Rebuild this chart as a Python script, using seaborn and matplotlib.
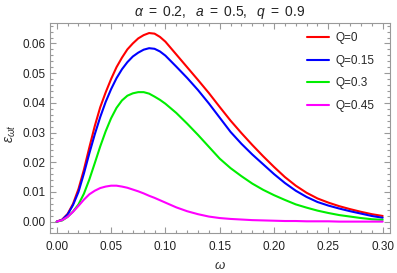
import numpy as np
import pandas as pd
import matplotlib
matplotlib.use('Agg')
import matplotlib.pyplot as plt
from matplotlib.ticker import MultipleLocator
import seaborn as sns

# ── Data ──────────────────────────────────────────────────────────────
omega = [0.000, 0.005, 0.010, 0.015, 0.020, 0.025, 0.030, 0.035, 0.040,
         0.045, 0.050, 0.055, 0.060, 0.065, 0.070, 0.075, 0.080, 0.085,
         0.090, 0.095, 0.100, 0.110, 0.120, 0.130, 0.140, 0.150, 0.160,
         0.170, 0.180, 0.190, 0.200, 0.210, 0.220, 0.230, 0.240, 0.250,
         0.260, 0.270, 0.280, 0.290, 0.300]

eps_q0 = [0.0000, 0.0007, 0.0026, 0.0060, 0.0110, 0.0175, 0.0250, 0.0322,
          0.0385, 0.0435, 0.0480, 0.0520, 0.0552, 0.0580, 0.0600, 0.0617,
          0.0628, 0.0635, 0.0633, 0.0622, 0.0606, 0.0563, 0.0520, 0.0477,
          0.0433, 0.0386, 0.0340, 0.0298, 0.0258, 0.0220, 0.0184, 0.0150,
          0.0121, 0.0097, 0.0078, 0.0064, 0.0052, 0.0042, 0.0033, 0.0025,
          0.0019]

eps_q015 = [0.0000, 0.0006, 0.0024, 0.0056, 0.0100, 0.0162, 0.0230, 0.0294,
            0.0352, 0.0403, 0.0446, 0.0483, 0.0513, 0.0537, 0.0556, 0.0569,
            0.0579, 0.0584, 0.0582, 0.0573, 0.0559, 0.0522, 0.0484, 0.0443,
            0.0398, 0.0350, 0.0302, 0.0262, 0.0226, 0.0193, 0.0160, 0.0130,
            0.0104, 0.0083, 0.0066, 0.0054, 0.0044, 0.0035, 0.0027, 0.0019,
            0.0013]

eps_q03 = [0.0000, 0.0004, 0.0016, 0.0034, 0.0058, 0.0094, 0.0142, 0.0197,
           0.0253, 0.0304, 0.0348, 0.0383, 0.0408, 0.0424, 0.0432, 0.0436,
           0.0436, 0.0431, 0.0421, 0.0410, 0.0397, 0.0366, 0.0330, 0.0292,
           0.0252, 0.0212, 0.0180, 0.0153, 0.0128, 0.0107, 0.0089, 0.0073,
           0.0058, 0.0047, 0.0037, 0.0029, 0.0022, 0.0017, 0.0012, 0.0008,
           0.0006]

eps_q045 = [0.0000, 0.0005, 0.0016, 0.0033, 0.0053, 0.0074, 0.0092, 0.0104,
            0.0113, 0.0118, 0.0121, 0.0121, 0.0118, 0.0114, 0.0108, 0.0102,
            0.0095, 0.0087, 0.0080, 0.0072, 0.0064, 0.0048, 0.0035, 0.0025,
            0.0017, 0.0012, 0.0009, 0.0007, 0.0005, 0.0004, 0.0003, 0.0002,
            0.0002, 0.0001, 0.0001, 0.0001, 0.0000, 0.0000, 0.0000, 0.0000,
            0.0000]

labels = ['Q=0', 'Q=0.15', 'Q=0.3', 'Q=0.45']
colors = ['#ff0000', '#0000ff', '#00ee00', '#ff00ff']

df = pd.concat([
    pd.DataFrame({'omega': omega, 'eps': vals, 'Q': lab})
    for vals, lab in zip([eps_q0, eps_q015, eps_q03, eps_q045], labels)
])

# ── Style ─────────────────────────────────────────────────────────────
sns.set_theme(style='white')
plt.rcParams['font.family'] = ['Liberation Sans', 'DejaVu Sans']
plt.rcParams['mathtext.fontset'] = 'custom'
plt.rcParams['mathtext.rm'] = 'Liberation Sans'
plt.rcParams['mathtext.it'] = 'Liberation Sans:italic'

fig = plt.figure(figsize=(3.97, 2.73), dpi=100)
ax = fig.add_axes([0.126, 0.148, 0.856, 0.769])

sns.lineplot(data=df, x='omega', y='eps', hue='Q', palette=colors,
             linewidth=1.5, ax=ax, legend=False,
             solid_joinstyle='round', solid_capstyle='round')

ax.set_xlim(-0.0062, 0.3066)
ax.set_ylim(-0.0037, 0.0670)

ax.xaxis.set_major_locator(MultipleLocator(0.05))
ax.xaxis.set_minor_locator(MultipleLocator(0.01))
ax.yaxis.set_major_locator(MultipleLocator(0.01))
ax.yaxis.set_minor_locator(MultipleLocator(0.002))
ax.xaxis.set_major_formatter(plt.FuncFormatter(lambda v, p: f'{v:.2f}'))
ax.yaxis.set_major_formatter(plt.FuncFormatter(lambda v, p: f'{v:.2f}'))

for side in ax.spines.values():
    side.set_color('#999999')
    side.set_linewidth(0.8)
ax.tick_params(which='both', direction='in', bottom=True, left=True,
               top=True, right=True, color='#999999', width=0.8,
               labelsize=8.5, labelcolor='#222222')
ax.tick_params(which='major', length=4, pad=6)
ax.tick_params(which='minor', length=2.2)
ax.tick_params(axis='y', which='major', pad=3)

ax.set_xlabel(r'$\omega$', fontsize=9.5, color='#333333', labelpad=5)
ax.set_ylabel(r'$\varepsilon_{\omega t}$', fontsize=10, color='#333333')
ax.yaxis.set_label_coords(-0.095, 0.47)
ax.set_title(r'$\alpha\ =\ 0.2,\ \ a\ =\ 0.5,\ \ q\ =\ 0.9$', fontsize=10,
             color='#222222', pad=5)

handles = [plt.Line2D([], [], color=c, lw=1.5) for c in colors]
ax.legend(handles, labels, loc='upper left', bbox_to_anchor=(0.757, 0.955),
          frameon=False, fontsize=8.5, handlelength=1.8, handletextpad=0.6,
          labelspacing=0.9, borderpad=0, borderaxespad=0)

fig.savefig('out.png', dpi=100)
plt.close(fig)
